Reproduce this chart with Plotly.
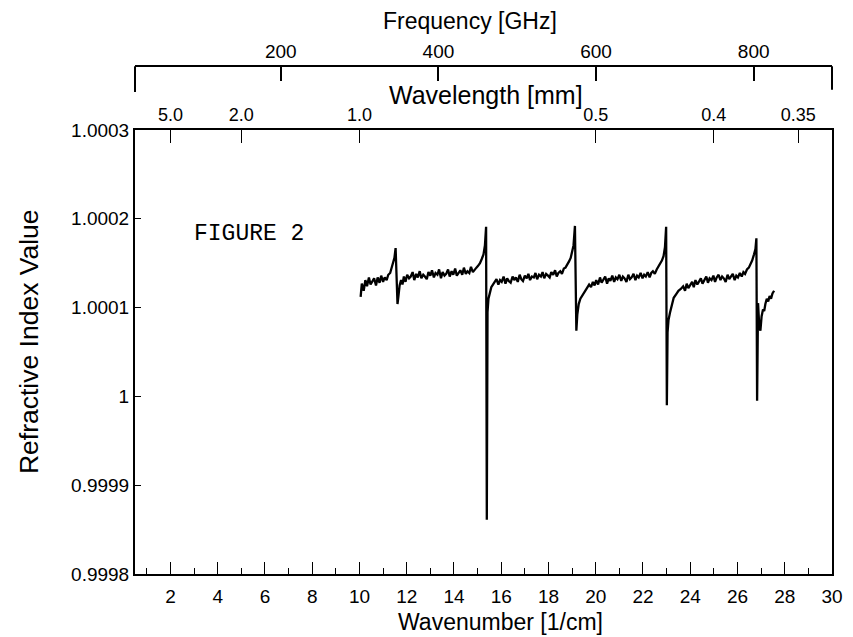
import plotly.graph_objects as go

# trace: wavenumber [1/cm] and (n - 1) in parts per million
wavenumber = [
    10.05, 10.10, 10.18, 10.25, 10.32, 10.40, 10.47, 10.55, 10.62, 10.70,
    10.77, 10.85, 10.92, 11.00, 11.07, 11.15, 11.22, 11.30, 11.37, 11.43,
    11.48, 11.53, 11.58, 11.61, 11.65, 11.70, 11.76, 11.82, 11.88,
    11.95, 12.02, 12.10, 12.17, 12.25, 12.32, 12.40, 12.47, 12.55, 12.62,
    12.70, 12.77, 12.85, 12.92, 13.00, 13.07, 13.15, 13.22, 13.30, 13.37,
    13.45, 13.52, 13.60, 13.67, 13.75, 13.82, 13.90, 13.97, 14.05, 14.12,
    14.20, 14.27, 14.35, 14.42, 14.50, 14.57, 14.65, 14.72, 14.80, 14.87,
    14.95, 15.02, 15.10, 15.18, 15.25, 15.31, 15.36, 15.39, 15.42, 15.46,
    15.52, 15.58, 15.65, 15.72,
    15.80, 15.88, 15.95, 16.02, 16.10, 16.18, 16.25, 16.32, 16.40, 16.48,
    16.55, 16.62, 16.70, 16.78, 16.85, 16.92, 17.00, 17.08, 17.15, 17.22,
    17.30, 17.38, 17.45, 17.52, 17.60, 17.68, 17.75, 17.82, 17.90, 17.98,
    18.05, 18.12, 18.20, 18.28, 18.35, 18.42, 18.50, 18.57, 18.65, 18.72,
    18.80, 18.87, 18.94, 19.00, 19.06, 19.12, 19.15, 19.18, 19.22, 19.28,
    19.35, 19.42, 19.50, 19.58, 19.65, 19.72,
    19.80, 19.88, 19.95, 20.02, 20.10, 20.18, 20.25, 20.32, 20.40, 20.48,
    20.55, 20.62, 20.70, 20.78, 20.85, 20.92, 21.00, 21.08, 21.15, 21.22,
    21.30, 21.38, 21.45, 21.52, 21.60, 21.68, 21.75, 21.82, 21.90, 21.98,
    22.05, 22.12, 22.20, 22.28, 22.35, 22.42, 22.50, 22.58, 22.65, 22.72,
    22.80, 22.87, 22.93, 22.98, 23.01, 23.04, 23.08, 23.14, 23.22, 23.30,
    23.40, 23.50, 23.60,
    23.70, 23.78, 23.85, 23.92, 24.00, 24.08, 24.15, 24.22, 24.30, 24.38,
    24.45, 24.52, 24.60, 24.68, 24.75, 24.82, 24.90, 24.98, 25.05, 25.12,
    25.20, 25.28, 25.35, 25.42, 25.50, 25.58, 25.65, 25.72, 25.80, 25.88,
    25.95, 26.02, 26.10, 26.18, 26.25, 26.32, 26.40, 26.48, 26.55, 26.62,
    26.70, 26.76, 26.80, 26.83, 26.87, 26.92, 26.97, 27.02, 27.08, 27.13,
    27.18, 27.24, 27.30, 27.36, 27.42, 27.48, 27.55,
]
index_ppm = [
    112, 127, 119, 131, 124, 134, 126, 129, 133, 125,
    134, 128, 136, 129, 134, 131, 137, 139, 145, 149,
    156, 167, 128, 104, 113, 125, 131, 126, 135,
    129, 137, 133, 135, 140, 131, 138, 134, 141, 133,
    137, 135, 132, 140, 136, 142, 134, 139, 137, 143,
    133, 140, 136, 138, 143, 135, 141, 137, 144, 136,
    140, 142, 137, 145, 138, 141, 139, 146, 140, 143,
    145, 147, 150, 155, 160, 170, 191, -139, 95, 110,
    118, 123, 126, 129,
    132, 126, 131, 129, 135, 127, 133, 130, 128, 135,
    131, 134, 129, 137, 132, 130, 136, 133, 138, 131,
    135, 134, 139, 132, 137, 135, 140, 133, 138, 136,
    134, 140, 137, 142, 135, 139, 141, 138, 144, 145,
    148, 152, 156, 162, 170, 192, 110, 74, 92, 104,
    110, 113, 117, 121, 124, 126,
    123, 129, 125, 131, 126, 134, 128, 131, 135, 127,
    133, 130, 136, 129, 134, 132, 137, 130, 135, 133,
    129, 137, 132, 134, 138, 131, 136, 134, 139, 133,
    137, 135, 140, 134, 139, 141, 138, 143, 146, 149,
    153, 158, 168, 191, -10, 72, 86, 94, 104, 111,
    115, 119, 121,
    124, 119, 127, 122, 126, 129, 123, 131, 126, 129,
    133, 127, 131, 135, 128, 133, 131, 136, 129, 134,
    137, 131, 135, 133, 129, 137, 132, 135, 138, 131,
    136, 134, 139, 135, 140, 138, 143, 145, 149, 153,
    160, 166, 178, -5, 105, 80, 74, 90, 98, 96,
    104, 110, 107, 113, 110, 116, 119,
]
refractive_index = [1 + v * 1e-6 for v in index_ppm]

y_ticks = [0.9998, 0.9999, 1.0, 1.0001, 1.0002, 1.0003]
y_labels = ["0.9998", "0.9999", "1", "1.0001", "1.0002", "1.0003"]
wn_ticks = list(range(2, 31, 2))
wavelength_mm = [5.0, 2.0, 1.0, 0.5, 0.4, 0.35]
wavelength_labels = ["5.0", "2.0", "1.0", "0.5", "0.4", "0.35"]
freq_ticks = [200, 400, 600, 800]
GHZ_PER_WN = 29.9792

wn_range = [0.5, 30]
font = "Liberation Sans, Arial, sans-serif"

fig = go.Figure()
fig.add_trace(go.Scatter(x=wavenumber, y=refractive_index, mode="lines",
                         line=dict(color="black", width=2.3), showlegend=False))
# empty traces so the two top axes get drawn
fig.add_trace(go.Scatter(x=[None], y=[None], xaxis="x2", showlegend=False))
fig.add_trace(go.Scatter(x=[None], y=[None], xaxis="x3", showlegend=False))

title_font = dict(family=font, color="black")
freq_pos = 0.9167

fig.update_layout(
    width=853, height=637,
    margin=dict(l=127, r=29, t=2, b=71),
    paper_bgcolor="white", plot_bgcolor="white",
    font=dict(family=font, color="black", size=19),
    xaxis=dict(
        range=wn_range, domain=[0, 1],
        tickvals=wn_ticks, ticks="inside", ticklen=12, tickwidth=1.3,
        tickcolor="black",
        minor=dict(dtick=1, tick0=0, ticks="inside", ticklen=6, tickwidth=1.3,
                   tickcolor="black", showgrid=False),
        showline=True, linewidth=2, linecolor="black",
        showgrid=False, zeroline=False, tickfont=dict(size=19),
        ticklabelstandoff=4,
    ),
    xaxis2=dict(
        overlaying="x", side="top", anchor="y", range=wn_range,
        tickvals=[10 / w for w in wavelength_mm], ticktext=wavelength_labels,
        ticks="inside", ticklen=13, tickwidth=1.3, tickcolor="black",
        showline=True, linewidth=2, linecolor="black",
        showgrid=False, zeroline=False, tickfont=dict(size=18),
    ),
    xaxis3=dict(
        overlaying="x", side="top", anchor="free", position=freq_pos,
        range=[wn_range[0] * GHZ_PER_WN, wn_range[1] * GHZ_PER_WN],
        tickvals=freq_ticks, ticks="inside", ticklen=14, tickwidth=1.5,
        tickcolor="black",
        showline=True, linewidth=2, linecolor="black",
        showgrid=False, zeroline=False, tickfont=dict(size=19),
    ),
    yaxis=dict(
        range=[0.9998, 1.0003], domain=[0, 0.8014],
        tickvals=y_ticks, ticktext=y_labels,
        ticks="inside", ticklen=6, tickwidth=1.3, tickcolor="black",
        showline=True, linewidth=2, linecolor="black", mirror=True,
        showgrid=False, zeroline=False, tickfont=dict(size=19),
    ),
    shapes=[
        dict(type="line", xref="paper", yref="paper", x0=0, x1=0,
             y0=0.870, y1=freq_pos, line=dict(color="black", width=2)),
        dict(type="line", xref="paper", yref="paper", x0=1, x1=1,
             y0=0.874, y1=freq_pos, line=dict(color="black", width=2)),
    ],
    annotations=[
        dict(text="Frequency [GHz]", x=0.481, y=0.998, xref="paper", yref="paper",
             xanchor="center", yanchor="middle", showarrow=False,
             font=dict(title_font, size=23)),
        dict(text="Wavelength [mm]", x=0.503, y=0.865, xref="paper", yref="paper",
             xanchor="center", yanchor="middle", showarrow=False,
             font=dict(title_font, size=25)),
        dict(text="Wavenumber [1/cm]", x=0.524, y=-0.087, xref="paper", yref="paper",
             xanchor="center", yanchor="middle", showarrow=False,
             font=dict(title_font, size=23)),
        dict(text="Refractive Index Value", x=-0.151, y=0.42, xref="paper",
             yref="paper", xanchor="center", yanchor="middle", textangle=-90,
             showarrow=False, font=dict(title_font, size=26.5)),
        dict(text="FIGURE 2", x=2.9, y=1.000183, xref="x", yref="y",
             xanchor="left", yanchor="middle", showarrow=False,
             font=dict(family="Liberation Mono, Courier New, monospace", size=23)),
    ],
)

fig.write_html("out.html")
